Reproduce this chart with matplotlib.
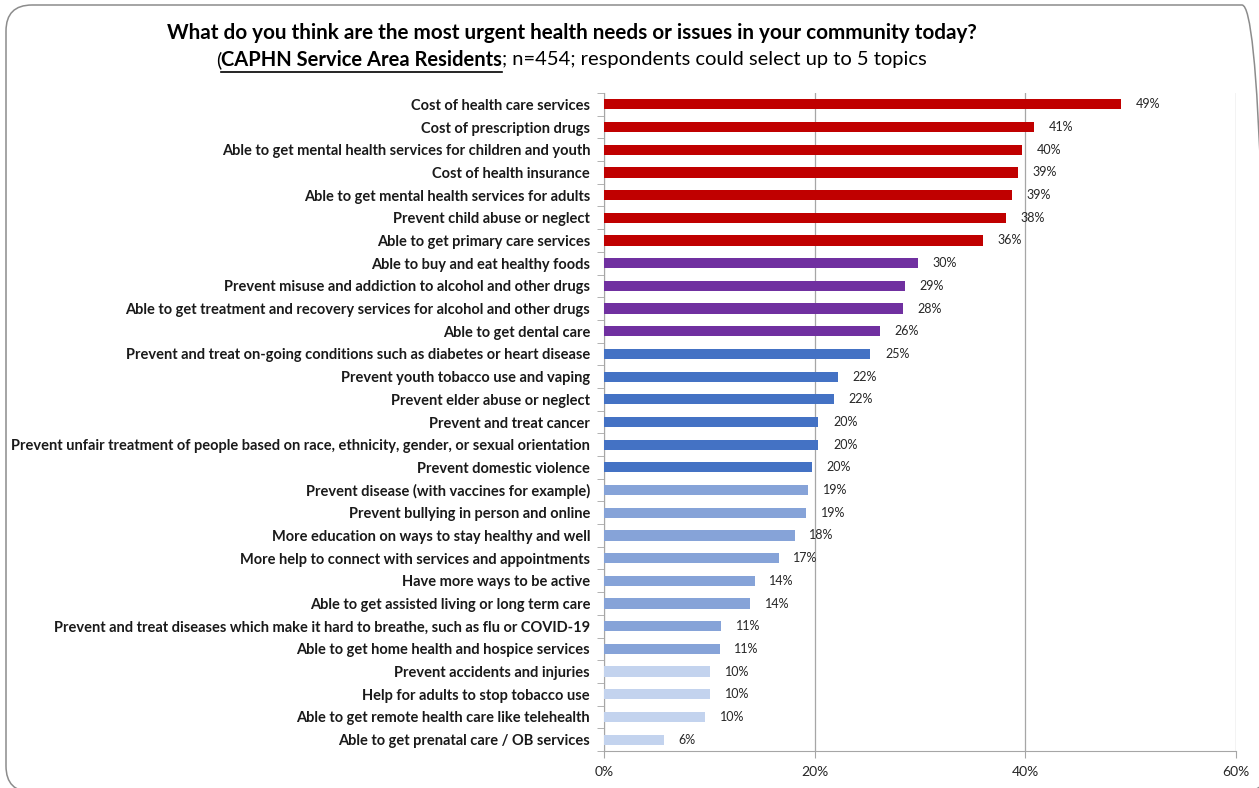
import matplotlib
matplotlib.use("Agg")
import matplotlib.pyplot as plt
from matplotlib.patches import FancyBboxPatch
from matplotlib.lines import Line2D
from matplotlib.transforms import IdentityTransform
import numpy as np

plt.rcParams['font.family'] = ['Lato', 'DejaVu Sans']

topics = [
    'Cost of health care services',
    'Cost of prescription drugs',
    'Able to get mental health services for children and youth',
    'Cost of health insurance',
    'Able to get mental health services for adults',
    'Prevent child abuse or neglect',
    'Able to get primary care services',
    'Able to buy and eat healthy foods',
    'Prevent misuse and addiction to alcohol and other drugs',
    'Able to get treatment and recovery services for alcohol and other drugs',
    'Able to get dental care',
    'Prevent and treat on-going conditions such as diabetes or heart disease',
    'Prevent youth tobacco use and vaping',
    'Prevent elder abuse or neglect',
    'Prevent and treat cancer',
    'Prevent unfair treatment of people based on race, ethnicity, gender, or sexual orientation',
    'Prevent domestic violence',
    'Prevent disease (with vaccines for example)',
    'Prevent bullying in person and online',
    'More education on ways to stay healthy and well',
    'More help to connect with services and appointments',
    'Have more ways to be active',
    'Able to get assisted living or long term care',
    'Prevent and treat diseases which make it hard to breathe, such as flu or COVID-19',
    'Able to get home health and hospice services',
    'Prevent accidents and injuries',
    'Help for adults to stop tobacco use',
    'Able to get remote health care like telehealth',
    'Able to get prenatal care / OB services',
]
pct = [49.1, 40.8, 39.7, 39.3, 38.7, 38.2, 36.0, 29.8, 28.6, 28.4, 26.2,
       25.3, 22.2, 21.8, 20.35, 20.35, 19.7, 19.4, 19.2, 18.1, 16.6,
       14.3, 13.9, 11.1, 11.0, 10.1, 10.1, 9.6, 5.7]
# number of topics in each colour tier, top to bottom
tier_sizes = [7, 4, 6, 8, 4]
tier_colors = ['#C00000', '#7030A0', '#4472C4', '#86A3D8', '#C3D3EE']

colors = []
for n, c in zip(tier_sizes, tier_colors):
    colors += [c] * n

fig = plt.figure(figsize=(12.59, 7.88), dpi=100)
ax = fig.add_axes([604 / 1259, 1 - 751 / 788, 632 / 1259, 658 / 788])

y = np.arange(len(topics))
ax.barh(y, pct, height=0.45, color=colors, zorder=3)
ax.set_ylim(len(topics) - 0.5, -0.5)
ax.set_xlim(0, 60)

for yi, v in zip(y, pct):
    ax.annotate(f'{round(v)}%', (v, yi), xytext=(10.5, 0), textcoords='offset points',
                va='center', ha='left', fontsize=9, color='#262626')

ax.set_xticks([0, 20, 40, 60])
ax.set_xticklabels(['0%', '20%', '40%', '60%'], fontsize=10, color='#262626')
ax.xaxis.grid(True, color='#A6A6A6', linewidth=0.9, zorder=0)
ax.tick_params(axis='x', length=5, color='#A6A6A6', pad=6)

ax.set_yticks(y)
ax.set_yticklabels(topics, fontsize=10.5, fontweight='bold', color='#1a1a1a')
ax.tick_params(axis='y', which='major', length=0, pad=10)
ax.set_yticks(np.arange(-0.5, len(topics), 1), minor=True)
ax.tick_params(axis='y', which='minor', length=5, color='#A6A6A6')

for side in ['top', 'right']:
    ax.spines[side].set_visible(False)
for side in ['left', 'bottom']:
    ax.spines[side].set_color('#A6A6A6')

# rounded frame around the whole chart (pixel coordinates)
frame = FancyBboxPatch((6, -4), 1262, 787, boxstyle='round,pad=0,rounding_size=26',
                       transform=IdentityTransform(), facecolor='none', edgecolor='#8C8C8C',
                       linewidth=1.1)
fig.patches.append(frame)

fig.text(0.454, 1 - 33 / 788,
         'What do you think are the most urgent health needs or issues in your community today?',
         ha='center', va='center', fontsize=14.9, fontweight='bold', color='black')

# subtitle with a bold, underlined section
parts = [('(', 'normal'), ('CAPHN Service Area Residents', 'bold'),
         ('; n=454; respondents could select up to 5 topics', 'normal')]
renderer = fig.canvas.get_renderer()
sub_y = 1 - 60 / 788
texts = []
for s, w in parts:
    texts.append(fig.text(0, sub_y, s, ha='left', va='center', fontsize=14.5,
                          fontweight=w, color='black'))
widths = [t.get_window_extent(renderer).width / fig.bbox.width for t in texts]
x0 = 0.454 - sum(widths) / 2
for t, w in zip(texts, widths):
    t.set_x(x0)
    if t.get_fontweight() == 'bold':
        fig.add_artist(Line2D([x0, x0 + w], [sub_y - 0.015, sub_y - 0.015],
                              transform=fig.transFigure, color='black', linewidth=1.2))
    x0 += w

fig.savefig('out.png', dpi=100)
